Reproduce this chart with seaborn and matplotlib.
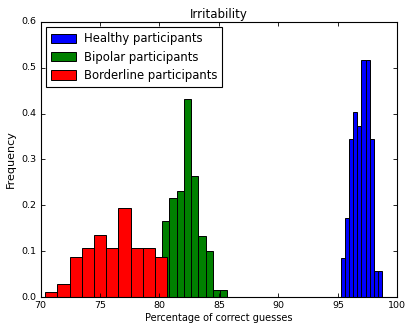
import numpy as np
import pandas as pd
import matplotlib
matplotlib.use("Agg")
import matplotlib.pyplot as plt
import seaborn as sns

# Relative frequency of each bin, per group
healthy_freq = [0.086, 0.172, 0.345, 0.403, 0.374, 0.518, 0.518, 0.345, 0.057, 0.057]
bipolar_freq = [0.166, 0.215, 0.232, 0.431, 0.265, 0.132, 0.100, 0.016, 0.016]
borderline_freq = [0.010, 0.028, 0.087, 0.106, 0.136, 0.106, 0.194, 0.106, 0.106, 0.087]

# Bin ranges (score in percent of correct guesses)
healthy_range = (95.22, 98.72)
bipolar_range = (80.23, 85.69)
borderline_range = (70.39, 80.65)

labels = ["Healthy participants", "Bipolar participants", "Borderline participants"]
colors = ["#0000ff", "#008000", "#ff0000"]

plt.style.use("classic")
plt.rcParams["font.family"] = ["DejaVu Sans"]

fig = plt.figure(figsize=(4.06, 3.31), dpi=100, facecolor="white")
ax = fig.add_axes([0.0998, 0.1027, 0.879, 0.831])

for freq, rng, lab, col in zip(
    [healthy_freq, bipolar_freq, borderline_freq],
    [healthy_range, bipolar_range, borderline_range],
    labels, colors,
):
    edges = np.linspace(rng[0], rng[1], len(freq) + 1)
    df = pd.DataFrame({"score": (edges[:-1] + edges[1:]) / 2, "freq": freq})
    sns.histplot(data=df, x="score", weights="freq", bins=list(edges),
                 stat="count", color=col, alpha=1, edgecolor="black",
                 linewidth=0.7, label=lab, ax=ax)

ax.set_xlim(70, 100)
ax.set_ylim(0, 0.6)
ax.set_xticks(np.arange(70, 101, 5))
ax.set_yticks(np.arange(0, 0.61, 0.1))
ax.set_yticklabels([f"{v:.1f}" for v in np.arange(0, 0.61, 0.1)])
ax.tick_params(labelsize=6.8, direction="in", top=True, right=True,
               length=3, width=0.6, pad=3)
for s in ax.spines.values():
    s.set_linewidth(0.8)

ax.set_title("Irritability", fontsize=8.5, pad=3)
ax.set_xlabel("Percentage of correct guesses", fontsize=7, labelpad=2)
ax.set_ylabel("Frequency", fontsize=8, labelpad=4)

leg = ax.legend(loc="upper left", fontsize=8.4, frameon=True, fancybox=False,
                handlelength=2.1, handleheight=0.85, borderpad=0.45,
                labelspacing=0.45, handletextpad=0.7, borderaxespad=0.45)
leg.get_frame().set_linewidth(0.8)
leg.get_frame().set_edgecolor("black")

fig.savefig("out.png", dpi=100, facecolor="white")
